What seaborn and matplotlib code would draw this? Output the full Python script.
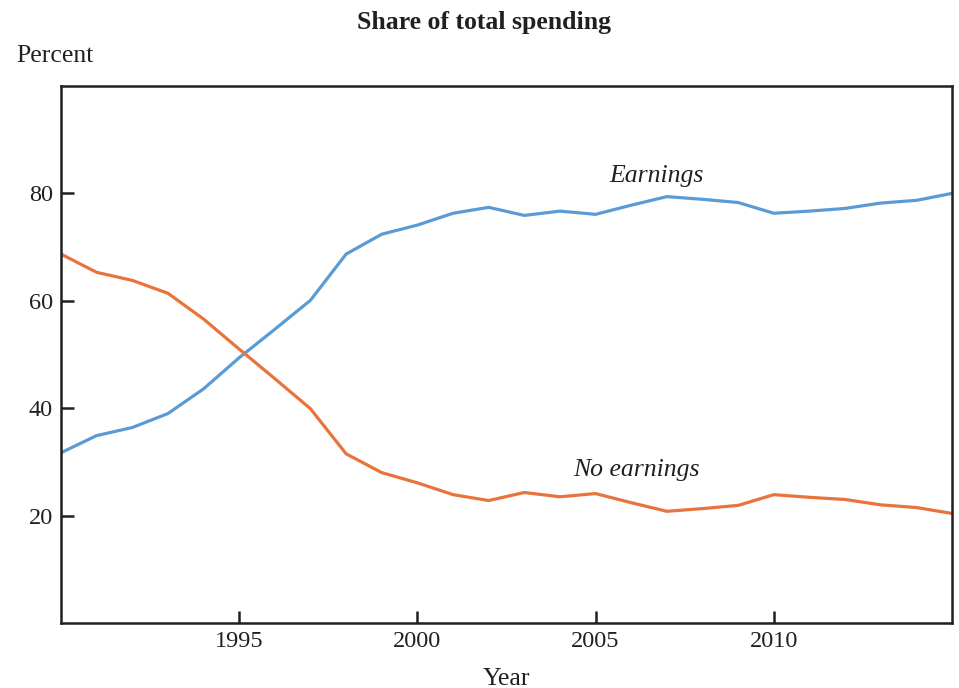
import numpy as np
import pandas as pd
import seaborn as sns
import matplotlib.pyplot as plt

years = list(range(1990, 2016))
earnings = [31.7, 34.9, 36.4, 39.0, 43.6, 49.4, 54.7, 60.1, 68.7, 72.4,
            74.1, 76.3, 77.4, 75.9, 76.7, 76.1, 77.8, 79.4, 78.9, 78.3,
            76.3, 76.7, 77.2, 78.2, 78.7, 80.0]
no_earnings = [68.7, 65.3, 63.8, 61.4, 56.6, 51.0, 45.5, 39.9, 31.5, 28.0,
               26.1, 23.9, 22.8, 24.3, 23.5, 24.1, 22.4, 20.8, 21.3, 21.9,
               23.9, 23.4, 23.0, 22.0, 21.5, 20.4]

df = pd.DataFrame({"Year": years * 2,
                   "Percent": earnings + no_earnings,
                   "Series": ["Earnings"] * len(years) + ["No earnings"] * len(years)})

sns.set_style("white")
plt.rcParams["font.family"] = ["Liberation Serif", "DejaVu Serif"]

fig = plt.figure(figsize=(9.59, 6.88), dpi=100)
ax = fig.add_axes([0.0636, 0.0945, 0.9291, 0.7805])

sns.lineplot(data=df, x="Year", y="Percent", hue="Series",
             palette={"Earnings": "#5B9BD5", "No earnings": "#E8743B"},
             linewidth=2.3, legend=False, ax=ax)

ax.set_xlim(1990, 2015)
ax.set_ylim(0, 100)
ax.set_xticks([1995, 2000, 2005, 2010])
ax.set_yticks([20, 40, 60, 80])
ax.tick_params(bottom=True, left=True, direction="in", length=9, width=1.8,
               labelsize=17.5, colors="#231f20", pad=6)
for s in ax.spines.values():
    s.set_linewidth(1.8)
    s.set_color("#231f20")
    s.set_visible(True)

ax.set_xlabel("Year", fontsize=18.5, color="#231f20", labelpad=11)
ax.set_ylabel("")
fig.text(0.017, 0.918, "Percent", fontsize=18.5, color="#231f20", va="center")
fig.text(0.505, 0.968, "Share of total spending", fontsize=18.5, fontweight="bold",
         color="#231f20", ha="center", va="center")

ax.text(2006.7, 83.2, "Earnings", fontsize=18.5, style="italic", ha="center", va="center", color="#231f20")
ax.text(2006.15, 28.5, "No earnings", fontsize=18.5, style="italic", ha="center", va="center", color="#231f20")

fig.savefig("out.png", dpi=100)
